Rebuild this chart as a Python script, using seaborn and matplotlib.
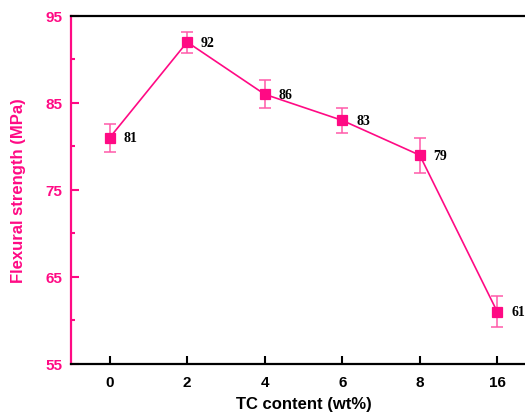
import matplotlib
matplotlib.use("Agg")
import matplotlib.pyplot as plt
import seaborn as sns
import pandas as pd
from matplotlib.ticker import FixedLocator

# Flexural strength versus TC content
tc_labels = ["0", "2", "4", "6", "8", "16"]
strength = [81, 92, 86, 83, 79, 61]
strength_err = [1.6, 1.2, 1.6, 1.4, 2.0, 1.8]
y_major = [55, 65, 75, 85, 95]
y_minor = [60, 70, 80, 90]

pink = "#FF0A84"
err_pink = "#FF5AAA"

sns.set_style("ticks")
plt.rcParams["font.family"] = ["Liberation Sans", "DejaVu Sans"]

df = pd.DataFrame({"tc": tc_labels, "strength": strength})

fig = plt.figure(figsize=(5.25, 4.14), dpi=100)
ax = fig.add_axes([0.135, 0.1184, 0.886, 0.8406])

sns.pointplot(data=df, x="tc", y="strength", order=tc_labels, color=pink,
              markers="s", linestyles="-", errorbar=None, ax=ax,
              markersize=6.5, linewidth=1.2)
ax.errorbar(range(len(tc_labels)), strength, yerr=strength_err, fmt="none",
            ecolor=err_pink, elinewidth=1.1, capsize=4, capthick=1.1, zorder=1)

for i, v in enumerate(strength):
    ax.annotate(f"{v}", (i, v), xytext=(10, 0), textcoords="offset points",
                ha="left", va="center", fontsize=10, fontweight="bold",
                family=["Liberation Serif", "DejaVu Serif"], color="black")

ax.set_xlim(-0.5, 5.5)
ax.set_ylim(55, 95)
ax.yaxis.set_major_locator(FixedLocator(y_major))
ax.yaxis.set_minor_locator(FixedLocator(y_minor))

for side in ["top", "bottom", "right"]:
    ax.spines[side].set_color("black")
    ax.spines[side].set_linewidth(1.6)
ax.spines["left"].set_color(pink)
ax.spines["left"].set_linewidth(1.6)

ax.tick_params(axis="y", which="major", direction="in", length=6, width=1.5,
               colors=pink, labelsize=11, pad=6)
ax.tick_params(axis="y", which="minor", direction="in", length=3, width=1.5,
               colors=pink)
ax.tick_params(axis="x", which="major", direction="in", length=6, width=1.5,
               colors="black", labelsize=11, pad=8)
for t in ax.get_yticklabels() + ax.get_xticklabels():
    t.set_fontweight("bold")

ax.set_xlabel("TC content (wt%)", fontsize=12, fontweight="bold", color="black",
              labelpad=5)
ax.set_ylabel("Flexural strength (MPa)", fontsize=12, fontweight="bold",
              color=pink, labelpad=14)

fig.savefig("out.png", dpi=100)
